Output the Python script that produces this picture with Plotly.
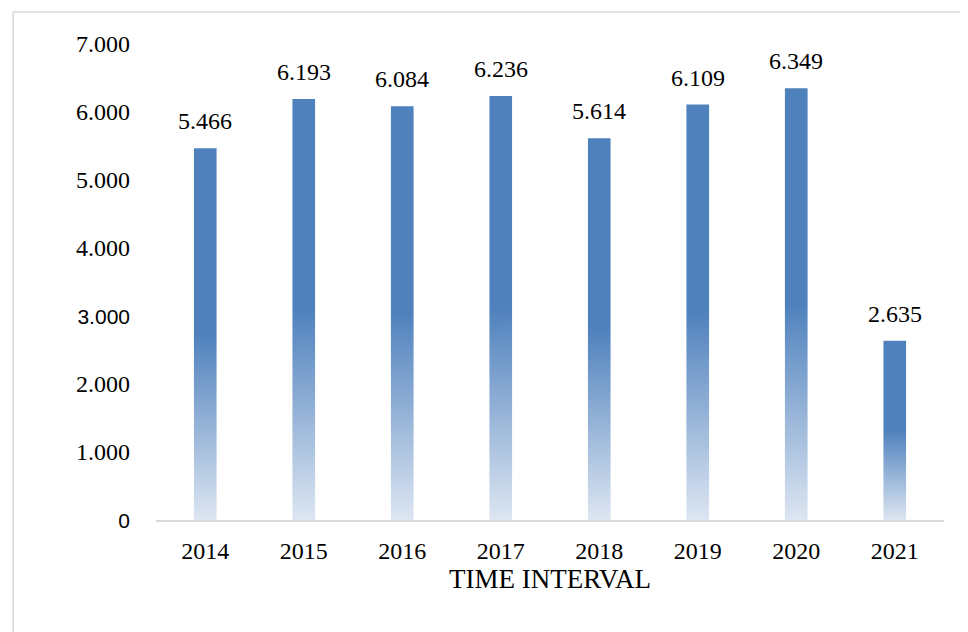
import plotly.graph_objects as go

years = ["2014", "2015", "2016", "2017", "2018", "2019", "2020", "2021"]
values = [5466, 6193, 6084, 6236, 5614, 6109, 6349, 2635]
value_labels = ["5.466", "6.193", "6.084", "6.236", "5.614", "6.109", "6.349", "2.635"]
y_tickvals = [0, 1000, 2000, 3000, 4000, 5000, 6000, 7000]
y_ticktext = ["0", "1.000", "2.000", "3.000", "4.000", "5.000", "6.000", "7.000"]
sans_ticks = {"0", "3.000"}

SERIF = "Liberation Serif, Times New Roman, serif"
SANS = "Liberation Sans"
BAR_W = 0.23
scale = [[0.0, "#dde6f2"], [0.5, "#4f81bd"], [1.0, "#4f81bd"]]

fig = go.Figure()
for i, (yr, v) in enumerate(zip(years, values)):
    xs = [i - BAR_W / 2, i + BAR_W / 2, i + BAR_W / 2, i - BAR_W / 2, i - BAR_W / 2]
    ys = [0, 0, v, v, 0]
    fig.add_trace(go.Scatter(
        x=xs, y=ys, mode="lines", fill="toself",
        line=dict(width=0, color="rgba(0,0,0,0)"),
        fillgradient=dict(type="vertical", colorscale=scale),
        hoverinfo="skip", showlegend=False,
    ))

for i, (v, lab) in enumerate(zip(values, value_labels)):
    fig.add_annotation(x=i, y=v, text=lab, showarrow=False, yanchor="bottom",
                       yshift=12, font=dict(family=SERIF, size=24, color="#000000"))

ticktext = [f"<span style='font-family:{SANS}; font-size:21px'>{t}</span>" if t in sans_ticks else t
            for t in y_ticktext]

fig.update_layout(
    width=960, height=624, autosize=False,
    margin=dict(l=148, r=24, t=36, b=112),
    paper_bgcolor="white", plot_bgcolor="white",
    font=dict(family=SERIF, size=24, color="#000000"),
    xaxis=dict(
        range=[-0.5, 7.5], tickvals=list(range(len(years))), ticktext=years,
        tickfont=dict(family=SERIF, size=24),
        showgrid=False, zeroline=False, showline=True, linecolor="#d9d9d9", linewidth=2,
        ticks="", ticklabelstandoff=8,
        title=dict(text="TIME INTERVAL", standoff=0, font=dict(family=SERIF, size=27)),
        fixedrange=True,
    ),
    yaxis=dict(
        range=[0, 7000], tickvals=y_tickvals, ticktext=ticktext,
        tickfont=dict(family=SERIF, size=24),
        showgrid=False, zeroline=False, showline=False, ticks="",
        ticklabelstandoff=25, fixedrange=True,
    ),
    shapes=[dict(type="rect", xref="paper", yref="paper",
                 x0=-0.1812, x1=1.05, y0=-0.4, y1=1.0673,
                 line=dict(color="#d9d9d9", width=1.5), fillcolor="rgba(0,0,0,0)", layer="below")],
)

fig.write_html("out.html")
